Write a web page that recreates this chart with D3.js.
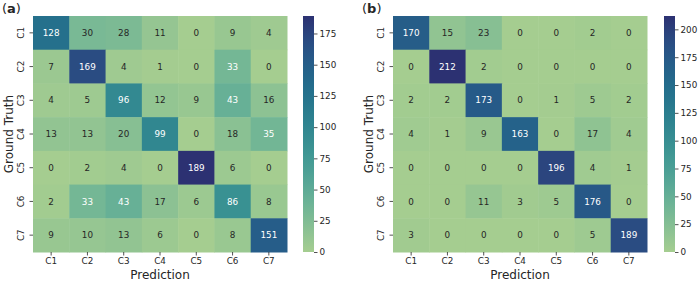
<!DOCTYPE html>
<html lang="en">
<head>
<meta charset="utf-8">
<title>Confusion matrices</title>
<script src="https://d3js.org/d3.v7.min.js"></script>
<style>
  body { margin: 0; background: #fff; }
  text { font-family: "DejaVu Sans", sans-serif; fill: #262626; }
</style>
</head>
<body>
<script>
// class labels
var classes = ["C1", "C2", "C3", "C4", "C5", "C6", "C7"];

// confusion matrix (a), rows = ground truth, cols = prediction
var matrixA = [
  [128, 30, 28, 11, 0, 9, 4],
  [7, 169, 4, 1, 0, 33, 0],
  [4, 5, 96, 12, 9, 43, 16],
  [13, 13, 20, 99, 0, 18, 35],
  [0, 2, 4, 0, 189, 6, 0],
  [2, 33, 43, 17, 6, 86, 8],
  [9, 10, 13, 6, 0, 8, 151]
];

// confusion matrix (b)
var matrixB = [
  [170, 15, 23, 0, 0, 2, 0],
  [0, 212, 2, 0, 0, 0, 0],
  [2, 2, 173, 0, 1, 5, 2],
  [4, 1, 9, 163, 0, 17, 4],
  [0, 0, 0, 0, 196, 4, 1],
  [0, 0, 11, 3, 5, 176, 0],
  [3, 0, 0, 0, 0, 5, 189]
];

var ticksA = [0, 25, 50, 75, 100, 125, 150, 175];
var ticksB = [0, 25, 50, 75, 100, 125, 150, 175, 200];

// approximation of seaborn "crest"
var crest = ["#a5cd90", "#89c093", "#6db496", "#55a696", "#419994", "#338a91",
             "#297c8e", "#236d8c", "#255d89", "#2b4c83", "#2c3172"];
var crestInterp = d3.interpolateRgbBasis(crest);

var svg = d3.select("body").append("svg")
  .attr("width", 700).attr("height", 282);

var defs = svg.append("defs");

function luminance(c) {
  var rgb = d3.rgb(c);
  var f = function(v) {
    v = v / 255;
    return v <= 0.03928 ? v / 12.92 : Math.pow((v + 0.055) / 1.055, 2.4);
  };
  return 0.2126 * f(rgb.r) + 0.7152 * f(rgb.g) + 0.0722 * f(rgb.b);
}

function panel(ox, letter, matrix, ticks, id) {
  var g = svg.append("g").attr("transform", "translate(" + ox + ",0)");
  var left = 33, top = 16, w = 254, h = 236;

  var flat = matrix.flat();
  var vmin = d3.min(flat), vmax = d3.max(flat);
  var color = d3.scaleSequential(crestInterp).domain([vmin, vmax]);

  var x = d3.scaleBand().domain(classes).range([left, left + w]);
  var y = d3.scaleBand().domain(classes).range([top, top + h]);

  var cells = [];
  matrix.forEach(function(row, i) {
    row.forEach(function(v, j) {
      cells.push({ r: classes[i], c: classes[j], v: v });
    });
  });

  g.selectAll("rect.cell").data(cells).enter().append("rect")
    .attr("class", "cell")
    .attr("x", function(d) { return x(d.c); })
    .attr("y", function(d) { return y(d.r); })
    .attr("width", x.bandwidth() + 0.5)
    .attr("height", y.bandwidth() + 0.5)
    .attr("fill", function(d) { return color(d.v); });

  g.selectAll("text.annot").data(cells).enter().append("text")
    .attr("class", "annot")
    .attr("x", function(d) { return x(d.c) + x.bandwidth() / 2; })
    .attr("y", function(d) { return y(d.r) + y.bandwidth() / 2; })
    .attr("dy", "0.36em")
    .attr("text-anchor", "middle")
    .attr("font-size", "8.8px")
    .style("fill", function(d) { return luminance(color(d.v)) > 0.408 ? "#262626" : "#ffffff"; })
    .text(function(d) { return d.v; });

  // x axis
  var xAxis = d3.axisBottom(x).tickSize(3.5).tickPadding(2.5);
  var xg = g.append("g").attr("transform", "translate(0," + (top + h) + ")").call(xAxis);
  xg.select(".domain").remove();
  xg.selectAll("line").attr("stroke", "#262626").attr("stroke-width", 0.8);
  xg.selectAll("text").attr("font-size", "8.8px").style("fill", "#262626")
    .attr("font-family", "DejaVu Sans");

  // y axis, labels rotated
  var yAxis = d3.axisLeft(y).tickSize(3.5).tickPadding(2);
  var yg = g.append("g").attr("transform", "translate(" + left + ",0)").call(yAxis);
  yg.select(".domain").remove();
  yg.selectAll("line").attr("stroke", "#262626").attr("stroke-width", 0.8);
  yg.selectAll("text")
    .attr("font-size", "8.8px").style("fill", "#262626").attr("font-family", "DejaVu Sans")
    .attr("x", null).attr("dy", null)
    .attr("text-anchor", "middle")
    .attr("transform", "translate(-9.5,0) rotate(-90)");

  g.append("text")
    .attr("x", left + w / 2).attr("y", 279)
    .attr("text-anchor", "middle").attr("font-size", "12px")
    .text("Prediction");

  g.append("text")
    .attr("transform", "translate(12.5," + (top + h / 2) + ") rotate(-90)")
    .attr("text-anchor", "middle").attr("font-size", "12px")
    .text("Ground Truth");

  var lab = g.append("text").attr("x", 2).attr("y", 13).attr("font-size", "13px");
  lab.append("tspan").text("(");
  lab.append("tspan").attr("font-weight", "bold").text(letter);
  lab.append("tspan").text(")");

  // colorbar
  var cbx = left + w + 16 + (id === "b" ? 1 : 0), cbw = 11;
  var grad = defs.append("linearGradient").attr("id", "grad" + id)
    .attr("x1", 0).attr("y1", 1).attr("x2", 0).attr("y2", 0);
  d3.range(0, 1.0001, 0.05).forEach(function(t) {
    grad.append("stop").attr("offset", t).attr("stop-color", crestInterp(t));
  });
  g.append("rect").attr("x", cbx).attr("y", top).attr("width", cbw).attr("height", h)
    .attr("fill", "url(#grad" + id + ")");

  var cs = d3.scaleLinear().domain([vmin, vmax]).range([top + h, top]);
  var cAxis = d3.axisRight(cs).tickValues(ticks).tickSize(3.5).tickPadding(2);
  var cg = g.append("g").attr("transform", "translate(" + (cbx + cbw) + ",0)").call(cAxis);
  cg.select(".domain").remove();
  cg.selectAll("line").attr("stroke", "#262626").attr("stroke-width", 0.8);
  cg.selectAll("text").attr("font-size", "8.8px").style("fill", "#262626")
    .attr("font-family", "DejaVu Sans");
}

panel(0, "a", matrixA, ticksA, "a");
panel(360, "b", matrixB, ticksB, "b");
</script>
</body>
</html>
